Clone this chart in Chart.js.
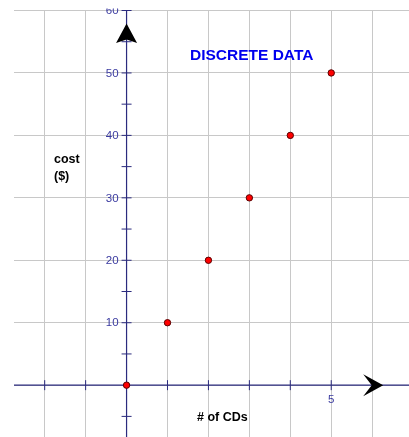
<!DOCTYPE html>
<html>
<head>
<meta charset="utf-8">
<script src="https://cdn.jsdelivr.net/npm/chart.js@4"></script>
<style>
  html, body { margin: 0; padding: 0; background: #fff; }
  #wrap { width: 409px; height: 437px; position: relative; }
</style>
</head>
<body>
<div id="wrap"><canvas id="cdChart"></canvas></div>
<script>
// data
const cdCounts = [0, 1, 2, 3, 4, 5];
const costs = [0, 10, 20, 30, 40, 50];
const xGridValues = [-2, -1, 0, 1, 2, 3, 4, 5, 6];
const yGridValues = [0, 10, 20, 30, 40, 50, 60];
const yTickLabels = [10, 20, 30, 40, 50, 60];
const yMinorTicks = [-5, 5, 15, 25, 35, 45, 55];
const xTickLabels = [5];

const FONT = "'Liberation Sans', Arial, sans-serif";
const AXIS_COLOR = '#2b2b7e';
const LABEL_COLOR = '#3a3aa0';

// axes, ticks and arrow heads (drawn under the points)
const axesPlugin = {
  id: 'axesPlugin',
  beforeDatasetsDraw(chart) {
    const ctx = chart.ctx;
    const x = chart.scales.x;
    const y = chart.scales.y;
    const area = chart.chartArea;
    const x0 = x.getPixelForValue(0);
    const y0 = y.getPixelForValue(0);

    ctx.save();
    ctx.strokeStyle = AXIS_COLOR;
    ctx.lineWidth = 1.2;
    ctx.beginPath();
    ctx.moveTo(area.left, y0);
    ctx.lineTo(area.right, y0);
    ctx.moveTo(x0, area.top);
    ctx.lineTo(x0, area.bottom);
    ctx.stroke();

    // tick marks on y
    ctx.lineWidth = 1;
    ctx.beginPath();
    yTickLabels.concat(yMinorTicks).forEach(v => {
      const py = y.getPixelForValue(v);
      ctx.moveTo(x0 - 5, py);
      ctx.lineTo(x0 + 5, py);
    });
    // tick marks on x
    xGridValues.filter(v => v !== 0).forEach(v => {
      const px = x.getPixelForValue(v);
      ctx.moveTo(px, y0 - 5);
      ctx.lineTo(px, y0 + 5);
    });
    ctx.stroke();

    // arrow heads
    ctx.fillStyle = '#000';
    const tipY = y.getPixelForValue(57.9);
    ctx.beginPath();
    ctx.moveTo(x0, tipY);
    ctx.lineTo(x0 + 10.5, tipY + 19.5);
    ctx.lineTo(x0, tipY + 16);
    ctx.lineTo(x0 - 10.5, tipY + 19.5);
    ctx.closePath();
    ctx.fill();

    const tipX = x.getPixelForValue(6.27);
    ctx.beginPath();
    ctx.moveTo(tipX, y0);
    ctx.lineTo(tipX - 20, y0 - 11);
    ctx.lineTo(tipX - 11.5, y0);
    ctx.lineTo(tipX - 20, y0 + 11);
    ctx.closePath();
    ctx.fill();

    // tick labels
    ctx.save();
    ctx.beginPath();
    ctx.rect(0, area.top - 2, chart.width, chart.height);
    ctx.clip();
    ctx.fillStyle = LABEL_COLOR;
    ctx.font = '11.5px ' + FONT;
    ctx.textAlign = 'right';
    ctx.textBaseline = 'middle';
    yTickLabels.forEach(v => {
      ctx.fillText(String(v), x0 - 8, y.getPixelForValue(v) + 0.5);
    });
    ctx.restore();

    ctx.fillStyle = LABEL_COLOR;
    ctx.font = '11.5px ' + FONT;
    ctx.textAlign = 'center';
    ctx.textBaseline = 'middle';
    xTickLabels.forEach(v => {
      ctx.fillText(String(v), x.getPixelForValue(v), y0 + 15);
    });
    ctx.restore();
  },
  afterDraw(chart) {
    const ctx = chart.ctx;
    ctx.save();
    ctx.textBaseline = 'middle';
    ctx.textAlign = 'left';

    ctx.fillStyle = '#0000ee';
    ctx.font = 'bold 15.5px ' + FONT;
    ctx.fillText('DISCRETE DATA', 190, 56);

    ctx.fillStyle = '#000';
    ctx.font = 'bold 12.5px ' + FONT;
    ctx.fillText('cost', 54, 160);
    ctx.fillText('($)', 54, 177);
    ctx.fillText('# of CDs', 197, 418);
    ctx.restore();
  }
};

const ctx = document.getElementById('cdChart').getContext('2d');
const cdChart = new Chart(ctx, {
  type: 'scatter',
  data: {
    datasets: [{
      label: 'cost',
      data: cdCounts.map((c, i) => ({ x: c, y: costs[i] })),
      backgroundColor: '#ff0000',
      borderColor: '#5a0000',
      borderWidth: 1,
      pointRadius: 3.2,
      pointHoverRadius: 3.2
    }]
  },
  options: {
    responsive: true,
    maintainAspectRatio: false,
    animation: false,
    layout: { autoPadding: false, padding: { left: 14, top: 10.5, right: 0, bottom: 0 } },
    plugins: {
      legend: { display: false },
      tooltip: { enabled: false },
      title: { display: false }
    },
    scales: {
      x: {
        type: 'linear',
        min: -2.75,
        max: 6.9,
        afterBuildTicks: scale => { scale.ticks = xGridValues.map(v => ({ value: v })); },
        ticks: { display: false },
        grid: { color: '#c8c8c8', lineWidth: 1, drawTicks: false },
        border: { display: false }
      },
      y: {
        type: 'linear',
        min: -8.3,
        max: 60,
        afterBuildTicks: scale => { scale.ticks = yGridValues.map(v => ({ value: v })); },
        ticks: { display: false },
        grid: { color: '#c8c8c8', lineWidth: 1, drawTicks: false },
        border: { display: false }
      }
    }
  },
  plugins: [axesPlugin]
});
</script>
</body>
</html>
